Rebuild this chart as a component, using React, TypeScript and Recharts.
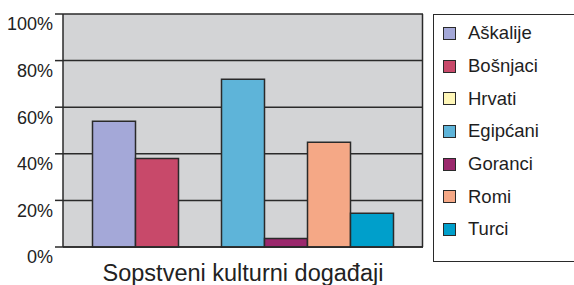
import { Bar, BarChart, CartesianGrid, XAxis, YAxis } from 'recharts';

const categories = ['Sopstveni kulturni događaji'];
const groups = ['Aškalije', 'Bošnjaci', 'Hrvati', 'Egipćani', 'Goranci', 'Romi', 'Turci'];
const values = [54, 38, 0, 72, 3.7, 45, 14.5];
const colors = ['#a4a8d8', '#c8496a', '#fff7b8', '#5eb4d9', '#9b296d', '#f5a886', '#009fcb'];
const yTicks = [0, 20, 40, 60, 80, 100];

const data = categories.map((name) => {
  const row: Record<string, string | number> = { name };
  groups.forEach((g, i) => {
    row[g] = values[i];
  });
  return row;
});

const font = '"Liberation Sans", Arial, sans-serif';
const ink = '#2a2a2a';

// legend drawn beside the chart so it doesn't eat into the plot area
function LegendBox() {
  return (
    <div
      style={{
        position: 'absolute',
        left: 433,
        top: 14,
        width: 150,
        height: 248,
        border: `1.5px solid ${ink}`,
        boxSizing: 'border-box',
        paddingTop: 2,
        fontFamily: font,
      }}
    >
      {groups.map((g, i) => (
        <div key={g} style={{ display: 'flex', alignItems: 'center', height: 32.7 }}>
          <span
            style={{
              width: 13,
              height: 13,
              marginLeft: 9,
              marginRight: 12,
              background: colors[i],
              border: `1px solid ${ink}`,
              boxSizing: 'border-box',
            }}
          />
          <span style={{ fontSize: 18.5, color: '#1e1e1e' }}>{g}</span>
        </div>
      ))}
    </div>
  );
}

function XTick({ x, y, payload }: any) {
  return (
    <text x={x} y={y} dy={26} textAnchor="middle" fontSize={23.5} fill="#222" fontFamily={font}>
      {payload.value}
    </text>
  );
}

export default function App() {
  return (
    <div style={{ position: 'absolute', left: 0, top: 0, width: 574, height: 285, background: '#fff', overflow: 'hidden' }}>
      <BarChart
        width={574}
        height={285}
        data={data}
        margin={{ top: 14, right: 151, bottom: 0, left: 0 }}
        barCategoryGap={29.5}
        barGap={0}
      >
        <CartesianGrid
          fill="#d3d4d6"
          stroke={ink}
          strokeWidth={1.5}
          verticalPoints={[422.5]}
        />
        <XAxis
          dataKey="name"
          axisLine={{ stroke: ink, strokeWidth: 1.5 }}
          tickLine={false}
          tick={<XTick />}
          height={38}
        />
        <YAxis
          domain={[0, 100]}
          ticks={yTicks}
          width={63}
          tickFormatter={(v) => `${v}%`}
          axisLine={{ stroke: ink, strokeWidth: 1.5 }}
          tickLine={{ stroke: ink, strokeWidth: 1.5 }}
          tickSize={8}
          tickMargin={2}
          tick={{ fontSize: 18, fill: '#222', fontFamily: font, dy: 10 }}
        />
        {groups.map((g, i) => (
          <Bar
            key={g}
            dataKey={g}
            fill={colors[i]}
            stroke={ink}
            strokeWidth={1.5}
            isAnimationActive={false}
          />
        ))}
      </BarChart>
      <LegendBox />
    </div>
  );
}
